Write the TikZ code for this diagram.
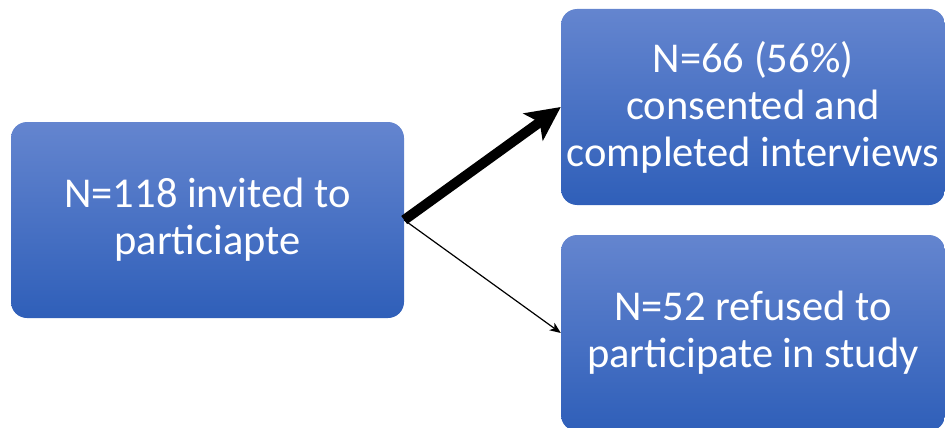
\documentclass[tikz,border=0pt]{standalone}
\usepackage{fontspec}
\setmainfont{Carlito}
\usetikzlibrary{arrows.meta}
\definecolor{boxtop}{RGB}{100,133,207}
\definecolor{boxbot}{RGB}{47,95,185}
\tikzset{
  flowbox/.style={rectangle, rounded corners=16pt, top color=boxtop, bottom color=boxbot,
    draw=none, minimum width=#1, minimum height=196pt, inner sep=0pt,
    text=white, align=center, font=\fontsize{42.5}{47}\selectfont},
  flowbox/.default=393pt,
  bigarrow/.style={line width=10pt, -{Stealth[length=34pt, width=33pt, inset=8pt]}},
  thinarrow/.style={line width=1.2pt, -{Stealth[length=11pt, width=9pt, inset=3pt]}}
}
\begin{document}
\begin{tikzpicture}[x=1pt,y=-1pt]
\useasboundingbox (0,0) rectangle (945,428);
\begin{scope}
\clip (0,0) rectangle (945,428);
\node[flowbox] (inv) at (207.5,220) {N=118 invited to\\particiapte};
\node[flowbox=384pt] (cons) at (753,107) {N=66 (56\%)\\consented and\\completed interviews};
\node[flowbox=384pt] (ref) at (753,333) {N=52 refused to\\participate in study};
\end{scope}
\draw[bigarrow] (inv.east) -- (cons.west);
\draw[thinarrow] (inv.east) -- (ref.west);
\end{tikzpicture}
\end{document}
